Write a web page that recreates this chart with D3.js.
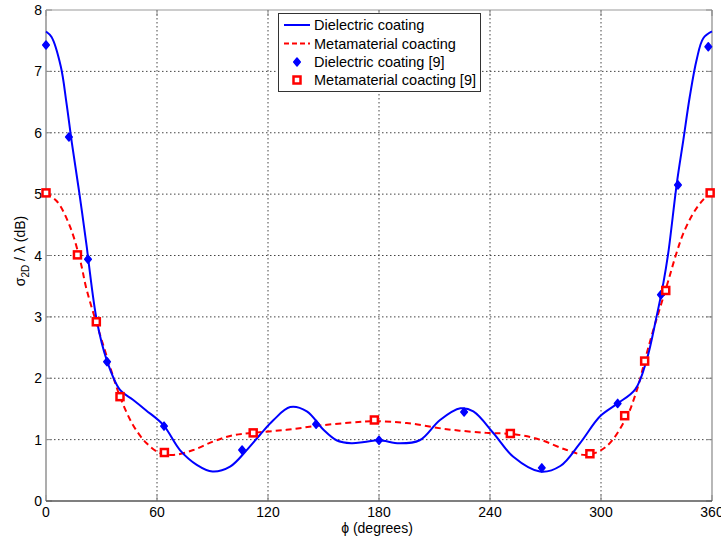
<!DOCTYPE html>
<meta charset="utf-8">
<style>
body { margin: 0; background: #fff; }
text { font-family: "Liberation Sans", Arial, sans-serif; font-size: 14px; fill: #000; }
.grid line { stroke: #444; stroke-width: 1; stroke-dasharray: 1.5,2.5; }
.tick-mark { stroke: #888; stroke-width: 1; }
</style>
<body>
<script src="https://cdn.jsdelivr.net/npm/d3@7"></script>
<script>

// simulated curves (phi in degrees, RCS in dB)
var dielPhi = [0, 3, 8, 11, 14, 18, 22, 23, 27.4, 32.8, 40, 47, 54, 63.4, 72.4, 81.5, 90, 99.5, 108.5, 115.7, 123, 132, 141, 150, 157, 165, 172, 180, 191, 202, 213, 224, 231, 242, 252.6, 267, 278, 288.6, 299.5, 308.5, 318.5, 324.7, 330, 333.7, 336.4, 341, 344.5, 348, 351.7, 355.3, 360];
var dielVal = [7.65, 7.56, 7.08, 6.5, 5.83, 5.02, 4.15, 3.9, 2.95, 2.3, 1.81, 1.65, 1.48, 1.24, 0.83, 0.59, 0.48, 0.56, 0.83, 1.08, 1.32, 1.53, 1.46, 1.16, 0.99, 0.94, 0.96, 0.99, 0.94, 0.99, 1.32, 1.51, 1.46, 1.10, 0.72, 0.48, 0.57, 0.94, 1.38, 1.58, 1.82, 2.3, 3.0, 3.55, 4.05, 5.18, 5.88, 6.59, 7.19, 7.54, 7.65];

var metaPhi = [0, 6, 13, 18.4, 22, 29, 34.6, 40, 47, 54.4, 61.6, 68.8, 79.6, 90.4, 101, 112, 130, 148, 166, 177, 195, 216.6, 238, 252.6, 267, 281.5, 292.3, 303, 313.9, 318, 321, 323.6, 328.3, 335.5, 340.9, 344.5, 349.9, 355.3, 360];
var metaVal = [5.02, 4.88, 4.47, 3.93, 3.44, 2.73, 2.19, 1.70, 1.24, 0.94, 0.78, 0.75, 0.83, 0.97, 1.07, 1.11, 1.16, 1.23, 1.28, 1.30, 1.27, 1.17, 1.11, 1.09, 1.0, 0.83, 0.75, 0.89, 1.37, 1.68, 1.97, 2.28, 2.79, 3.5, 4.05, 4.36, 4.69, 4.91, 5.02];

// reference [9] points
var dielRefPhi = [0, 12.4, 22.7, 33, 63.8, 106, 146, 180, 226, 268, 309, 332.4, 341.6, 358];
var dielRefVal = [7.43, 5.93, 3.94, 2.27, 1.22, 0.83, 1.25, 0.99, 1.45, 0.54, 1.59, 3.36, 5.15, 7.40];

var metaRefPhi = [0, 17, 27.2, 40, 64, 112, 177.5, 251, 294, 312.8, 323.6, 335, 359];
var metaRefVal = [5.02, 4.01, 2.92, 1.70, 0.79, 1.11, 1.32, 1.10, 0.77, 1.39, 2.28, 3.43, 5.02];

var xTicks = [0, 60, 120, 180, 240, 300, 360];
var yTicks = [0, 1, 2, 3, 4, 5, 6, 7, 8];

var legendLabels = ["Dielectric coating", "Metamaterial coacting", "Dielectric coating [9]", "Metamaterial coacting [9]"];

var width = 721, height = 539;
var pLeft = 46, pRight = 712, pTop = 10, pBottom = 501;

var svg = d3.select("body").append("svg")
    .attr("width", width)
    .attr("height", height);

var x = d3.scaleLinear().domain([0, 360]).range([pLeft, pRight]);
var y = d3.scaleLinear().domain([0, 8]).range([pBottom, pTop]);

// grid
var grid = svg.append("g").attr("class", "grid");
grid.selectAll(".gx")
    .data(xTicks.slice(1, -1))
  .enter().append("line")
    .attr("x1", x).attr("x2", x)
    .attr("y1", pTop).attr("y2", pBottom);
grid.selectAll(".gy")
    .data(yTicks.slice(1, -1))
  .enter().append("line")
    .attr("y1", y).attr("y2", y)
    .attr("x1", pLeft).attr("x2", pRight);

// inner tick marks on all four sides
var tl = 6;
var ticks = svg.append("g");
xTicks.forEach(function(t) {
  ticks.append("line").attr("class", "tick-mark")
    .attr("x1", x(t)).attr("x2", x(t)).attr("y1", pBottom).attr("y2", pBottom - tl);
  ticks.append("line").attr("class", "tick-mark")
    .attr("x1", x(t)).attr("x2", x(t)).attr("y1", pTop).attr("y2", pTop + tl);
});
yTicks.forEach(function(t) {
  ticks.append("line").attr("class", "tick-mark")
    .attr("x1", pLeft).attr("x2", pLeft + tl).attr("y1", y(t)).attr("y2", y(t));
  ticks.append("line").attr("class", "tick-mark")
    .attr("x1", pRight).attr("x2", pRight - tl).attr("y1", y(t)).attr("y2", y(t));
});

// box
svg.append("line").attr("x1", pLeft).attr("x2", pRight).attr("y1", pTop).attr("y2", pTop)
    .style("stroke", "#999").style("stroke-width", 1.2);
svg.append("line").attr("x1", pRight).attr("x2", pRight).attr("y1", pTop).attr("y2", pBottom)
    .style("stroke", "#888").style("stroke-width", 1.2);
svg.append("line").attr("x1", pLeft).attr("x2", pLeft).attr("y1", pTop).attr("y2", pBottom)
    .style("stroke", "#999").style("stroke-width", 1.6);
svg.append("line").attr("x1", pLeft).attr("x2", pRight).attr("y1", pBottom).attr("y2", pBottom)
    .style("stroke", "#555").style("stroke-width", 1.4);

// tick labels
svg.append("g").selectAll("text")
    .data(xTicks)
  .enter().append("text")
    .attr("x", x)
    .attr("y", pBottom + 16)
    .attr("text-anchor", "middle")
    .text(function(d) { return d; });

svg.append("g").selectAll("text")
    .data(yTicks)
  .enter().append("text")
    .attr("x", pLeft - 4)
    .attr("y", function(d) { return y(d) + 5; })
    .attr("text-anchor", "end")
    .text(function(d) { return d; });

// axis titles
svg.append("text")
    .attr("x", 377)
    .attr("y", 533)
    .attr("text-anchor", "middle")
    .text("\u03D5 (degrees)");

var yl = svg.append("text")
    .attr("transform", "translate(25,251) rotate(-90)")
    .attr("text-anchor", "middle");
yl.append("tspan").text("\u03C3");
yl.append("tspan").attr("dy", 4).style("font-size", "10px").text("2D");
yl.append("tspan").attr("dy", -4).text(" / \u03BB (dB)");

// curves
function zip(a, b) { return a.map(function(v, i) { return [v, b[i]]; }); }

var line = d3.line()
    .x(function(d) { return x(d[0]); })
    .y(function(d) { return y(d[1]); })
    .curve(d3.curveCatmullRom.alpha(0.5));

svg.append("path")
    .datum(zip(metaPhi, metaVal))
    .attr("d", line)
    .style("fill", "none")
    .style("stroke", "#ff0000")
    .style("stroke-width", 2)
    .style("stroke-dasharray", "6,4");

svg.append("path")
    .datum(zip(dielPhi, dielVal))
    .attr("d", line)
    .style("fill", "none")
    .style("stroke", "#0000ff")
    .style("stroke-width", 2);

var diamond = "M0,-4L3.3,0L0,4L-3.3,0Z";

function drawDiamond(g, cx, cy) {
  g.append("path")
    .attr("d", diamond)
    .attr("transform", "translate(" + cx + "," + cy + ")")
    .style("fill", "#0000ff")
    .style("stroke", "#0000ff")
    .style("stroke-width", 1.5)
    .style("stroke-linejoin", "round");
}

function drawSquare(g, cx, cy) {
  g.append("rect")
    .attr("x", cx - 3.5).attr("y", cy - 3.5)
    .attr("width", 7).attr("height", 7)
    .style("fill", "#fff")
    .style("stroke", "#ff0000")
    .style("stroke-width", 2.5);
}

var marks = svg.append("g");
zip(dielRefPhi, dielRefVal).forEach(function(d) { drawDiamond(marks, x(d[0]), y(d[1])); });
zip(metaRefPhi, metaRefVal).forEach(function(d) { drawSquare(marks, x(d[0]), y(d[1])); });

// legend
var lg = svg.append("g");
lg.append("rect")
    .attr("x", 278.5).attr("y", 13.5)
    .attr("width", 202).attr("height", 78)
    .style("fill", "#fff")
    .style("stroke", "#333")
    .style("stroke-width", 1);

var rowY = [25, 43.5, 62, 80];
lg.append("line").attr("x1", 284).attr("x2", 310).attr("y1", rowY[0]).attr("y2", rowY[0])
    .style("stroke", "#0000ff").style("stroke-width", 2);
lg.append("line").attr("x1", 284).attr("x2", 310).attr("y1", rowY[1]).attr("y2", rowY[1])
    .style("stroke", "#ff0000").style("stroke-width", 2).style("stroke-dasharray", "5,3");
drawDiamond(lg, 297, rowY[2]);
drawSquare(lg, 297, rowY[3]);

lg.selectAll(".lt")
    .data(legendLabels)
  .enter().append("text")
    .attr("x", 314)
    .attr("y", function(d, i) { return rowY[i] + 5; })
    .style("font-size", "14.5px")
    .text(function(d) { return d; });

</script>
